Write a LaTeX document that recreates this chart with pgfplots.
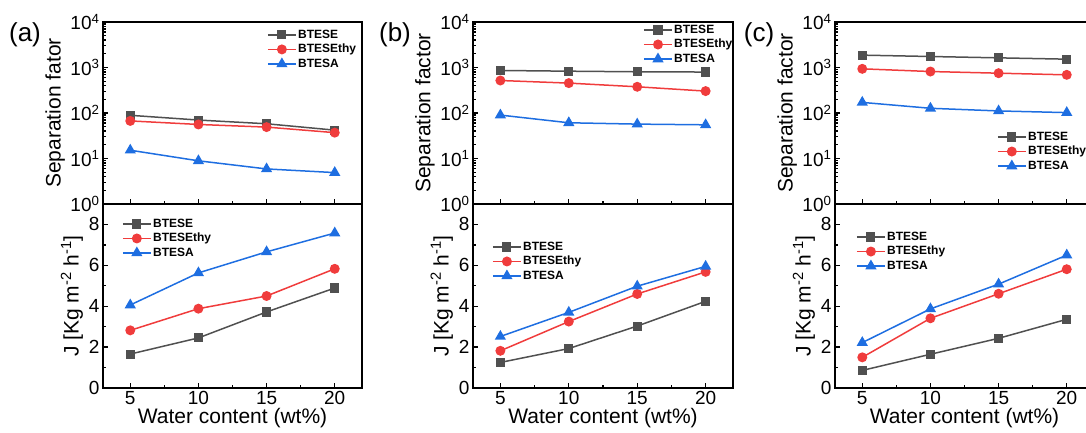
\documentclass[border=0pt]{standalone}
\usepackage{fontspec}
\setmainfont{Liberation Sans}
\usepackage{pgfplots}
\usepackage{pgfplotstable}
\pgfplotsset{compat=1.18}

\definecolor{cgray}{RGB}{80,80,80}
\definecolor{cred}{RGB}{240,60,60}
\definecolor{cblue}{RGB}{30,110,225}

% x  sepE sepEthy sepA  JE  JEthy  JA
\pgfplotstableread{
x   sE    sEt   sA    jE    jEt   jA
5   89    67    15.2  1.66  2.82  4.06
10  70    56    8.9   2.45  3.88  5.63
15  58    49    5.9   3.72  4.50  6.66
20  42    37    4.9   4.89  5.83  7.58
}\dataA
\pgfplotstableread{
x   sE    sEt   sA    jE    jEt   jA
5   860   518   90    1.25  1.82  2.52
10  830   454   61    1.93  3.25  3.70
15  805   377   57    3.03  4.60  4.98
20  795   303   55    4.24  5.68  5.95
}\dataB
\pgfplotstableread{
x   sE    sEt   sA    jE    jEt   jA
5   1870  935   171   0.86  1.50  2.22
10  1745  816   127   1.65  3.41  3.87
15  1630  750   111   2.43  4.61  5.08
20  1525  690   102   3.36  5.81  6.50
}\dataC

\pgfplotsset{
  panel/.style={
    scale only axis, anchor=south west,
    xmin=3, xmax=22, xtick={5,10,15,20}, minor x tick num=1,
    xtick pos=bottom, ytick pos=left, tick align=inside,
    axis line style={line width=1.8pt},
    major tick length=5pt, minor tick length=3pt,
    every tick/.style={black, line width=1.3pt},
    tick label style={font=\fontsize{19}{19}\selectfont},
    label style={font=\fontsize{21}{21}\selectfont},
    /pgf/number format/assume math mode=true,
    legend cell align=left,
    legend style={draw=none, fill=none, inner sep=0pt, row sep=0pt,
      anchor=north west,
      font=\bfseries\fontsize{12}{12}\selectfont,
      nodes={inner sep=1.5pt, text height=9pt, text depth=2.5pt}},
    legend image code/.code={\draw[mark repeat=2,mark phase=2,##1]
      plot coordinates {(0pt,0pt) (14pt,0pt) (28pt,0pt)};},
  },
  toppanel/.style={panel, height=182pt, ymin=1, ymax=10000,
    ytick={1,10,100,1000,10000},
    yticklabels={10\textsuperscript{0},10\textsuperscript{1},10\textsuperscript{2},10\textsuperscript{3},10\textsuperscript{4}},
    xticklabels={},
    ylabel style={at={(axis description cs:-0.185,0.5)}, anchor=center}},
  botpanel/.style={panel, height=184pt, ymin=0, ymax=9,
    ytick={0,2,4,6,8}, minor y tick num=1,
    ylabel={J [Kg m\textsuperscript{-2} h\textsuperscript{-1}]},
    ylabel style={at={(axis description cs:-0.12,0.5)}, anchor=center},
    xlabel={Water content (wt\%)},
    xlabel style={at={(axis description cs:0.5,-0.163)}, anchor=center}},
  sE/.style={cgray, line width=1.5pt, mark=square*, mark size=3.8pt, mark options={solid, fill=cgray}},
  sEt/.style={cred, line width=1.5pt, mark=*, mark size=4.2pt, mark options={solid, fill=cred}},
  sA/.style={cblue, line width=1.5pt, mark=triangle*, mark size=5pt, mark options={solid, fill=cblue}},
}

\begin{document}
\begin{tikzpicture}
\useasboundingbox (0pt,0pt) rectangle (1086pt,432pt);

% ---- (a) ----
\begin{semilogyaxis}[toppanel, at={(103pt,228pt)}, width=259pt,
  ylabel={Separation fator},
  legend style={at={(axis description cs:0.633,0.97)}}]
\addplot[sE] table[x=x,y=sE] {\dataA};
\addplot[sEt] table[x=x,y=sEt] {\dataA};
\addplot[sA] table[x=x,y=sA] {\dataA};
\legend{BTESE,BTESEthy,BTESA}
\end{semilogyaxis}
\begin{axis}[botpanel, at={(103pt,44pt)}, width=259pt,
  legend style={at={(axis description cs:0.073,0.932)}}]
\addplot[sE] table[x=x,y=jE] {\dataA};
\addplot[sEt] table[x=x,y=jEt] {\dataA};
\addplot[sA] table[x=x,y=jA] {\dataA};
\legend{BTESE,BTESEthy,BTESA}
\end{axis}

% ---- (b) ----
\begin{semilogyaxis}[toppanel, at={(473pt,228pt)}, width=260pt,
  ylabel={Separation factor},
  legend style={at={(axis description cs:0.654,0.997)}}]
\addplot[sE] table[x=x,y=sE] {\dataB};
\addplot[sEt] table[x=x,y=sEt] {\dataB};
\addplot[sA] table[x=x,y=sA] {\dataB};
\legend{BTESE,BTESEthy,BTESA}
\end{semilogyaxis}
\begin{axis}[botpanel, at={(473pt,44pt)}, width=260pt,
  legend style={at={(axis description cs:0.073,0.807)}}]
\addplot[sE] table[x=x,y=jE] {\dataB};
\addplot[sEt] table[x=x,y=jEt] {\dataB};
\addplot[sA] table[x=x,y=jA] {\dataB};
\legend{BTESE,BTESEthy,BTESA}
\end{axis}

% ---- (c) ----
\begin{semilogyaxis}[toppanel, at={(835pt,228pt)}, width=259pt,
  ylabel={Separation factor},
  legend style={at={(axis description cs:0.625,0.409)}}]
\addplot[sE] table[x=x,y=sE] {\dataC};
\addplot[sEt] table[x=x,y=sEt] {\dataC};
\addplot[sA] table[x=x,y=sA] {\dataC};
\legend{BTESE,BTESEthy,BTESA}
\end{semilogyaxis}
\begin{axis}[botpanel, at={(835pt,44pt)}, width=259pt,
  legend style={at={(axis description cs:0.081,0.861)}}]
\addplot[sE] table[x=x,y=jE] {\dataC};
\addplot[sEt] table[x=x,y=jEt] {\dataC};
\addplot[sA] table[x=x,y=jA] {\dataC};
\legend{BTESE,BTESEthy,BTESA}
\end{axis}

\node[font=\fontsize{26}{26}\selectfont] at (25pt,397pt) {(a)};
\node[font=\fontsize{26}{26}\selectfont] at (395pt,397pt) {(b)};
\node[font=\fontsize{26}{26}\selectfont] at (759pt,397pt) {(c)};
\end{tikzpicture}
\end{document}
